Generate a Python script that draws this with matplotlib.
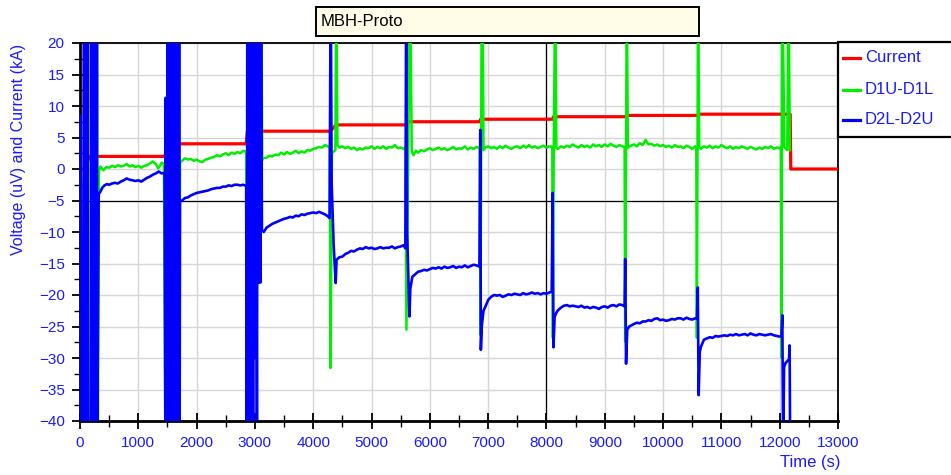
import matplotlib
matplotlib.use("Agg")
import matplotlib.pyplot as plt
from matplotlib.patches import Rectangle
from matplotlib.lines import Line2D
from matplotlib.ticker import MultipleLocator

plt.rcParams['font.family'] = ['Liberation Sans', 'DejaVu Sans']

# ---- data: (time s, value) samples ------------------------------------
title = "MBH-Proto"
series_names = ["Current", "D1U-D1L", "D2L-D2U"]

# Current (kA)
current = [(0, 0.0), (70, 0.0), (90, 0.2), (160, 2.0), (1460, 2.0), (1480, 4.0),
           (2850, 4.0), (2870, 6.0), (4290, 6.0), (4390, 7.0), (5590, 7.0),
           (5600, 7.5), (6860, 7.5), (6870, 7.9), (8110, 7.9), (8120, 8.3),
           (9370, 8.3), (9380, 8.5), (10600, 8.5), (10610, 8.7), (12180, 8.7),
           (12190, 0.0), (13000, 0.0)]

# D1U-D1L (uV)
d1 = [(0, 0.0), (20, -1.7), (35, -45), (110, -45), (122, 30), (135, -45),
      (180, -45), (200, 30), (290, 30), (305, -45), (325, -0.4), (350, 0.4),
      (400, -0.2), (450, 0.3), (500, 0.2), (550, 0.5), (600, 0.3), (650, 0.6),
      (700, 0.4), (750, 0.5), (800, 0.8), (850, 0.4), (900, 0.6), (950, 0.3),
      (1000, 0.5), (1050, 0.2), (1100, 0.5), (1150, 0.6), (1200, 0.9),
      (1250, 1.2), (1300, 0.8), (1340, 0.1), (1370, 0.5), (1400, 1.0),
      (1440, 0.8), (1465, -45), (1700, -45), (1715, 1.0), (1750, 1.3),
      (1800, 1.7), (1850, 1.5), (1900, 1.6), (1950, 1.3), (2000, 1.5),
      (2050, 1.2), (2100, 1.1), (2150, 1.5), (2200, 1.6), (2250, 1.8),
      (2300, 1.9), (2350, 2.2), (2400, 2.0), (2450, 2.3), (2500, 2.5),
      (2550, 2.2), (2600, 2.6), (2650, 2.4), (2700, 2.7), (2750, 2.5),
      (2800, 2.9), (2850, 2.7), (2865, -45), (2920, -45), (2930, 12.8),
      (2945, -45), (3040, 30), (3055, 7.8), (3065, 30), (3110, 30),
      (3125, 1.4), (3140, 1.7), (3200, 1.8), (3250, 2.1), (3300, 2.0),
      (3350, 2.3), (3400, 2.2), (3450, 2.6), (3500, 2.3), (3550, 2.7),
      (3600, 2.4), (3650, 2.6), (3700, 2.9), (3750, 2.5), (3800, 2.8),
      (3850, 2.6), (3900, 3.0), (3950, 2.9), (4000, 3.2), (4050, 3.3),
      (4100, 3.5), (4150, 3.4), (4200, 3.8), (4250, 3.6), (4285, 3.4),
      (4298, -31.6), (4320, 2.5), (4380, 3.0), (4395, 30), (4415, 3.8),
      (4450, 3.4), (4500, 3.6), (4550, 3.3), (4600, 3.5), (4650, 3.2),
      (4700, 3.4), (4750, 3.0), (4800, 3.3), (4850, 3.1), (4900, 3.4),
      (4950, 3.3), (5000, 3.6), (5050, 3.2), (5100, 3.5), (5150, 3.3),
      (5200, 3.6), (5250, 3.2), (5300, 3.5), (5350, 3.4), (5400, 3.8),
      (5450, 3.3), (5500, 3.4), (5550, 3.2), (5585, 3.5), (5598, -25.5),
      (5630, 3.0), (5660, 30), (5690, 2.8), (5720, 2.2), (5760, 2.9),
      (5800, 2.6), (5850, 3.0), (5900, 2.8), (5950, 3.1), (6000, 3.3),
      (6050, 3.0), (6100, 3.2), (6150, 3.4), (6200, 3.1), (6250, 3.3),
      (6300, 3.0), (6350, 3.2), (6400, 3.5), (6450, 3.1), (6500, 3.3),
      (6550, 3.2), (6600, 3.6), (6650, 3.1), (6700, 3.4), (6750, 3.2),
      (6800, 3.5), (6855, 3.3), (6868, -26.3), (6880, 3.0), (6890, 30),
      (6905, 30), (6920, 3.0), (6950, 3.4), (7000, 3.6), (7050, 3.3),
      (7100, 3.5), (7150, 3.2), (7200, 3.6), (7250, 3.3), (7300, 3.7),
      (7350, 3.4), (7400, 3.2), (7450, 3.5), (7500, 3.6), (7550, 3.3),
      (7600, 3.7), (7650, 3.4), (7700, 3.8), (7750, 3.4), (7800, 3.6),
      (7850, 3.3), (7900, 3.5), (7950, 3.7), (8000, 3.4), (8050, 3.6),
      (8100, 3.5), (8110, -26.8), (8125, 3.0), (8150, 30), (8170, 3.3),
      (8200, 3.2), (8250, 3.6), (8300, 3.4), (8350, 3.7), (8400, 3.5),
      (8450, 3.9), (8500, 3.6), (8550, 3.4), (8600, 3.8), (8650, 3.5),
      (8700, 3.7), (8750, 3.4), (8800, 3.9), (8850, 3.6), (8900, 3.8),
      (8950, 3.5), (9000, 3.9), (9050, 3.6), (9100, 4.0), (9150, 3.7),
      (9200, 3.5), (9250, 3.8), (9300, 3.6), (9340, 3.5), (9350, -27.4),
      (9365, 3.2), (9378, 30), (9395, 3.4), (9450, 3.7), (9500, 3.9),
      (9550, 3.6), (9600, 4.1), (9650, 3.8), (9700, 4.6), (9750, 3.9),
      (9800, 4.0), (9850, 3.7), (9900, 3.9), (9950, 3.6), (10000, 3.8),
      (10050, 3.5), (10100, 3.7), (10150, 3.4), (10200, 3.8), (10250, 3.5),
      (10300, 3.6), (10350, 3.3), (10400, 3.7), (10450, 3.5), (10500, 3.2),
      (10550, 3.6), (10570, 3.4), (10580, -26.8), (10590, 3.3), (10600, 30),
      (10620, 3.5), (10650, 3.2), (10700, 3.6), (10750, 3.4), (10800, 3.7),
      (10850, 3.3), (10900, 3.6), (10950, 3.4), (11000, 3.8), (11050, 3.5),
      (11100, 3.3), (11150, 3.6), (11200, 3.2), (11250, 3.5), (11300, 3.3),
      (11350, 3.6), (11400, 3.4), (11450, 3.2), (11500, 3.5), (11550, 3.3),
      (11600, 3.1), (11650, 3.4), (11700, 3.2), (11750, 3.5), (11800, 3.3),
      (11850, 3.6), (11900, 3.2), (11950, 3.4), (12000, 3.3), (12020, 3.5),
      (12030, -30.0), (12045, 30), (12080, 3.5), (12130, 3.0), (12150, 30),
      (12175, 3.0)]

# D2L-D2U (uV)
d2 = [(0, -0.5), (10, 8.5), (20, -45), (55, -45), (65, 30), (80, 30), (90, -45),
      (115, -45), (125, 30), (135, -45), (183, -45),
      (190, 30), (200, -45), (210, 30), (220, -45), (230, 30), (240, -45),
      (250, 30), (260, -45), (270, 30), (280, -45), (290, 30), (296, -45),
      (320, -4.0), (350, -3.6), (380, -3.0), (420, -2.6), (460, -2.4),
      (500, -2.5), (550, -2.3), (600, -2.2), (650, -2.3), (700, -2.0),
      (750, -1.8), (800, -1.5), (850, -1.7), (900, -1.8), (950, -1.9),
      (1000, -1.8), (1050, -2.0), (1100, -1.7), (1150, -1.4), (1200, -1.2),
      (1250, -0.9), (1300, -0.7), (1350, -0.4), (1400, -0.7), (1450, -0.6),
      (1465, -45), (1470, 11.3), (1478, -45), (1486, 11.3), (1494, -45),
      (1500, 30), (1510, -45), (1520, 30), (1530, -45), (1540, 30),
      (1550, -45), (1560, 30), (1570, -45), (1580, 30), (1590, -45),
      (1600, 30), (1610, -45), (1620, 30), (1630, -45), (1640, 30),
      (1650, -45), (1660, 30), (1670, -45), (1680, 30), (1690, -45),
      (1700, 30), (1708, -45),
      (1715, -5.2), (1750, -5.0), (1800, -4.6), (1850, -4.5), (1900, -4.2),
      (1950, -4.0), (2000, -3.8), (2050, -3.7), (2100, -3.6), (2150, -3.5),
      (2200, -3.4), (2250, -3.2), (2300, -3.1), (2350, -3.0), (2400, -3.0),
      (2450, -2.8), (2500, -2.8), (2550, -2.6), (2600, -2.7), (2650, -2.5),
      (2700, -2.5), (2750, -2.6), (2800, -2.5), (2850, -2.7), (2860, -45),
      (2870, 30), (2880, -45), (2890, 30), (2900, -45), (2910, 30),
      (2920, -45), (2938, 30), (2948, -45), (2958, 30), (2968, -45),
      (2978, 30), (2995, -30), (3015, 30), (3035, -45), (3045, 30),
      (3055, -18), (3065, 30), (3075, -18), (3085, 30), (3095, -18),
      (3105, 30),
      (3120, -9.7), (3150, -10.0), (3200, -9.3), (3250, -9.0), (3300, -8.7),
      (3350, -8.5), (3400, -8.3), (3450, -8.1), (3500, -7.9), (3550, -7.8),
      (3600, -7.6), (3650, -7.7), (3700, -7.4), (3750, -7.5), (3800, -7.2),
      (3850, -7.3), (3900, -7.1), (3950, -7.0), (4000, -6.9), (4050, -7.0),
      (4100, -6.8), (4150, -7.0), (4200, -7.2), (4250, -7.5), (4280, -7.8),
      (4300, 30), (4315, -2.0), (4350, -12.0), (4385, -18.1), (4400, -14.4),
      (4450, -14.0), (4500, -13.9), (4550, -13.5), (4600, -13.3),
      (4650, -13.0), (4700, -13.1), (4750, -12.8), (4800, -12.6),
      (4850, -12.7), (4900, -12.4), (4950, -12.6), (5000, -12.5),
      (5050, -12.7), (5100, -12.6), (5150, -12.4), (5200, -12.6),
      (5250, -12.5), (5300, -12.5), (5350, -12.3), (5400, -12.6),
      (5450, -12.4), (5500, -12.3), (5550, -12.1), (5580, -12.6),
      (5595, 30), (5610, -10.0), (5650, -23.4), (5665, -19.0), (5700, -17.1),
      (5750, -16.7), (5800, -16.3), (5850, -16.2), (5900, -16.0),
      (5950, -16.1), (6000, -15.9), (6050, -15.7), (6100, -15.8),
      (6150, -15.6), (6200, -15.8), (6250, -15.5), (6300, -15.7),
      (6350, -15.6), (6400, -15.4), (6450, -15.7), (6500, -15.5),
      (6550, -15.6), (6600, -15.3), (6650, -15.6), (6700, -15.4),
      (6750, -15.2), (6800, -15.3), (6850, -15.5),
      (6865, 6.2), (6875, -28.7), (6890, -25.0), (6920, -22.5), (6950, -21.9),
      (7000, -20.8), (7050, -20.3), (7100, -20.0), (7150, -20.1),
      (7200, -20.0), (7250, -20.3), (7300, -20.1), (7350, -19.9),
      (7400, -20.0), (7450, -19.8), (7500, -19.9), (7550, -20.0),
      (7600, -19.7), (7650, -19.9), (7700, -19.8), (7750, -19.6),
      (7800, -19.8), (7850, -19.7), (7900, -19.9), (7950, -19.7),
      (8000, -19.8), (8050, -19.6), (8090, -19.5),
      (8105, -3.8), (8120, -28.3), (8140, -23.5), (8170, -22.8),
      (8200, -22.4), (8250, -22.0), (8300, -21.7), (8350, -21.6),
      (8400, -21.8), (8450, -21.7), (8500, -21.8), (8550, -21.9),
      (8600, -21.7), (8650, -22.0), (8700, -21.9), (8750, -22.1),
      (8800, -21.9), (8850, -22.0), (8900, -22.2), (8950, -21.9),
      (9000, -21.8), (9050, -22.0), (9100, -21.7), (9150, -21.6),
      (9200, -21.8), (9250, -21.5), (9300, -21.6), (9340, -21.8),
      (9350, -14.3), (9365, -30.9), (9385, -25.5), (9420, -25.0),
      (9500, -24.6), (9550, -24.4), (9600, -24.5), (9650, -24.2),
      (9700, -24.2), (9750, -24.0), (9800, -24.1), (9850, -23.8),
      (9900, -23.7), (9950, -24.0), (10000, -23.9), (10050, -24.1),
      (10100, -24.0), (10150, -23.8), (10200, -23.9), (10250, -23.7),
      (10300, -23.7), (10350, -23.9), (10400, -23.6), (10450, -23.8),
      (10500, -23.9), (10550, -23.7), (10580, -23.8),
      (10595, -18.8), (10610, -35.9), (10630, -29.0), (10650, -28.2),
      (10700, -27.1), (10750, -26.9), (10800, -26.7), (10850, -26.8),
      (10900, -26.5), (10950, -26.6), (11000, -26.5), (11050, -26.4),
      (11100, -26.5), (11150, -26.3), (11200, -26.4), (11250, -26.2),
      (11300, -26.4), (11350, -26.3), (11400, -26.2), (11450, -26.4),
      (11500, -26.1), (11550, -26.3), (11600, -26.4), (11650, -26.2),
      (11700, -26.3), (11750, -26.4), (11800, -26.3), (11850, -26.2),
      (11900, -26.4), (11950, -26.5), (12000, -26.6), (12030, -26.5),
      (12045, -23.2), (12060, -45), (12075, -31.5), (12100, -30.8),
      (12140, -30.4), (12160, -30.3), (12170, -28.0), (12180, -45)]

x_ticks = list(range(0, 13001, 1000))
y_ticks = list(range(-40, 21, 5))

# ---- figure -----------------------------------------------------------
W, H = 951, 475
fig = plt.figure(figsize=(W / 100, H / 100), dpi=100)
ax = fig.add_axes([80 / W, 1 - 421 / H, (838 - 80) / W, (421 - 43) / H])

RED, GREEN, BLUE = "#ff0000", "#00ee00", "#0000ff"
TXT = "#1a1aff"

for pts, col, lw, z in [(current, RED, 2.3, 3), (d1, GREEN, 1.8, 4),
                        (d2, BLUE, 1.9, 5)]:
    t, v = zip(*pts)
    ax.plot(t, v, color=col, lw=lw, zorder=z)

ax.set_xlim(0, 13000)
ax.set_ylim(-40, 20)
ax.set_xticks(x_ticks)
ax.set_yticks(y_ticks)
ax.xaxis.set_minor_locator(MultipleLocator(500))
ax.yaxis.set_minor_locator(MultipleLocator(2.5))
ax.set_axisbelow(True)
ax.grid(True, which="major", color="#d6d6d6", lw=1.0)
# cursor cross-hair
ax.axvline(8000, color="black", lw=0.9, zorder=2)
ax.axhline(-5, color="black", lw=0.9, zorder=2)

ax.tick_params(which="major", direction="inout", length=12, width=1.3,
               labelsize=11, labelcolor=TXT, pad=5)
ax.tick_params(which="minor", direction="inout", length=8, width=1.0)
for side in ("left", "bottom"):
    ax.spines[side].set_linewidth(2.0)
for side in ("top", "right"):
    ax.spines[side].set_linewidth(1.3)

fig.text(19 / W, 1 - 44 / H, "Voltage (uV) and Current (kA)", rotation=90,
         ha="center", va="top", color=TXT, fontsize=11.5)
fig.text(840 / W, 1 - 462 / H, "Time (s)", ha="right", va="center",
         color=TXT, fontsize=12)

# title box
fig.patches.append(Rectangle((316 / W, 1 - 35.5 / H), (699 - 316) / W, 28.5 / H,
                             transform=fig.transFigure, fc="#fffde8",
                             ec="black", lw=1.4, zorder=1))
fig.text(321 / W, 1 - 21.5 / H, title, ha="left", va="center",
         fontsize=12, color="black")

# legend box
fig.patches.append(Rectangle((838 / W, 1 - 137 / H), 120 / W, 95 / H,
                             transform=fig.transFigure, fc="white",
                             ec="black", lw=1.6, zorder=1))
for name, col, yy in zip(series_names, [RED, GREEN, BLUE], [58, 90, 120]):
    fig.lines.append(Line2D([843 / W, 860 / W], [1 - yy / H, 1 - yy / H],
                            transform=fig.transFigure, color=col, lw=2.3))
    fig.text(865 / W, 1 - yy / H, name, ha="left", va="center",
             fontsize=12, color=TXT)

fig.savefig("out.png", dpi=100)
